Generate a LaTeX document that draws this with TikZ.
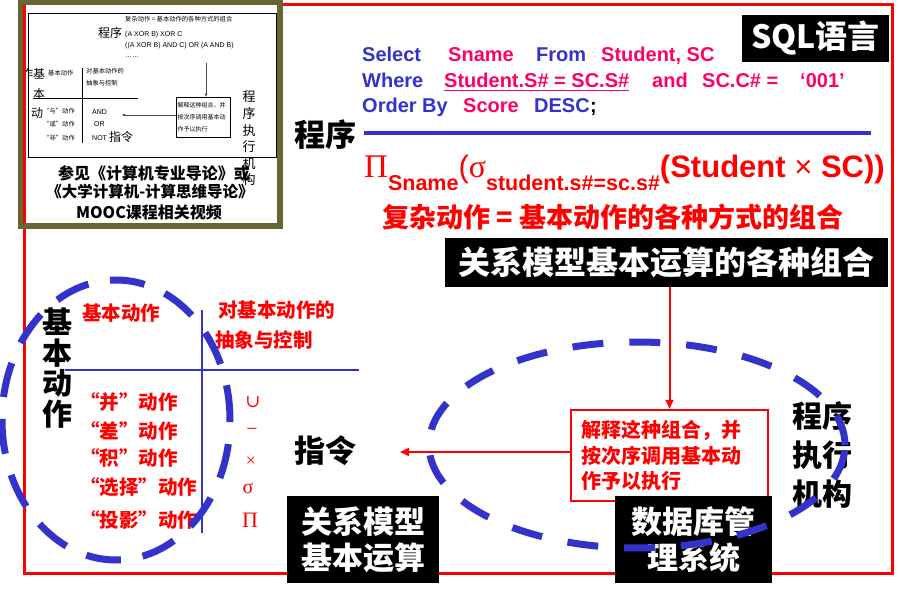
\documentclass[tikz,border=0pt]{standalone}
\usepackage{fontspec}
\setmainfont{Liberation Sans}
\newfontfamily\cjk{Noto Sans CJK SC}
\newfontfamily\grk{Liberation Serif}
\newfontfamily\symf{DejaVu Serif}
\usetikzlibrary{arrows.meta}

\definecolor{kwblue}{RGB}{51,51,204}
\definecolor{idpink}{RGB}{255,0,102}
\definecolor{framegold}{RGB}{102,102,51}
\definecolor{pred}{RGB}{255,0,0}

\newcommand{\fsz}[1]{\fontsize{#1}{#1}\selectfont}

\tikzset{
  sqlword/.style={anchor=base west, inner sep=0pt, font=\bfseries\fsz{20}},
  kw/.style={sqlword, text=kwblue},
  ident/.style={sqlword, text=idpink},
  bigcjk/.style={inner sep=0pt, font=\cjk\bfseries\fsz{31}},
  blackbox/.style={fill=black, text=white, inner sep=0pt, align=center},
  redtxt/.style={inner sep=0pt, text=pred, font=\cjk\bfseries\fsz{19.5}},
  redsym/.style={inner sep=0pt, text=pred},
  redarrow/.style={draw=pred, line width=2pt, -{Triangle[length=9pt,width=8pt]}},
  blueline/.style={draw=kwblue, line width=2.5pt},
  bluedash/.style={draw=kwblue, line width=7pt},
  tinycjk/.style={inner sep=0pt, font=\cjk\fsz{6.3}},
  tinylat/.style={inner sep=0pt, anchor=west, font=\fsz{7}},
  thumbarrow/.style={draw=black!70, line width=0.6pt, -{Triangle[length=3pt,width=2.5pt]}},
}

\begin{document}
\begin{tikzpicture}[x=1pt,y=-1pt]
% canvas
\fill[white] (0,0) rectangle (906,596);
\useasboundingbox (0,0) rectangle (906,596);

% outer red frame
\draw[pred, line width=3pt] (24.5,4.5) rectangle (892,573);

% ---------- small inset slide (top left) ----------
\fill[white] (20.5,2.5) rectangle (279.5,226);
\draw[black, line width=0.8pt] (28,13) rectangle (276,157);
\node[tinycjk, anchor=west] (t-cplx) at (125,19) {复杂动作 = 基本动作的各种方式的组合};
\node[inner sep=0pt, font=\cjk\fsz{12}] (t-prog) at (110,33) {程序};
\node[tinylat] (t-e1) at (125,35) {(A XOR B) XOR C};
\node[tinylat] (t-e2) at (125,46) {((A XOR B) AND C) OR (A AND B)};
\node[tinylat] (t-e3) at (125,57) {……};
\coordinate (t-arrtop) at (206,63);
\node[draw=black, line width=0.6pt, minimum width=54pt, minimum height=40pt, inner sep=1.5pt,
      text width=51pt, align=left, font=\cjk\fontsize{6}{12}\selectfont] (t-box) at (203,117)
      {解释这种组合，并\\按次序调用基本动\\作予以执行};
\draw[thumbarrow] (t-arrtop) -- (t-arrtop |- t-box.north);
\coordinate (t-cmd) at (122,115);
\draw[thumbarrow] (t-box.west |- t-cmd) -- (t-cmd);
\draw[black, line width=0.7pt] (33,98) -- (138,98);
\draw[black, line width=0.7pt] (82,68) -- (82,143);
\node[inner sep=0pt, font=\cjk\fsz{12}] (t-z) at (27,74) {作};
\node[inner sep=0pt, font=\cjk\fsz{12}] (t-j) at (39,74) {基};
\node[inner sep=0pt, font=\cjk\fsz{12}] (t-b) at (39,94) {本};
\node[inner sep=0pt, font=\cjk\fsz{12}] (t-d) at (37,113) {动};
\node[tinycjk, anchor=west] (t-basic) at (48,73) {基本动作};
\node[tinycjk, anchor=west] (t-ab1) at (86,71) {对基本动作的};
\node[tinycjk, anchor=west] (t-ab2) at (86,83) {抽象与控制};
\node[tinycjk, anchor=east] (t-and) at (75,111) {“与”动作};
\node[tinycjk, anchor=east] (t-or) at (75,124) {“或”动作};
\node[tinycjk, anchor=east] (t-not) at (75,138) {“非”动作};
\node[tinylat] (t-AND) at (92,112) {AND};
\node[tinylat] (t-OR) at (94,124) {OR};
\node[tinylat] (t-NOT) at (92,138) {NOT};
\node[inner sep=0pt, font=\cjk\fsz{12}] (t-instr) at (121,137) {指令};
\node[inner sep=0pt, font=\cjk\bfseries\fsz{16}] (t-c1) at (154,173) {参见《计算机专业导论》或};
\node[inner sep=0pt, font=\cjk\bfseries\fsz{15.5}] (t-c2) at (150,192) {《大学计算机-计算思维导论》};
\node[inner sep=0pt, font=\cjk\bfseries\fsz{16}] (t-c3) at (149,212) {MOOC课程相关视频};
\node[inner sep=0pt, align=center, font=\cjk\fontsize{13}{16.6}\selectfont] (t-exec) at (249,138.5)
      {程\\序\\执\\行\\机\\构};
\draw[framegold, line width=6pt] (20.5,2.5) rectangle (279.5,226);
\draw[pred, line width=3pt] (24.5,5.5) -- (24.5,223);

% ---------- SQL statement ----------
\node[blackbox, minimum width=147pt, minimum height=47pt, font=\cjk\bfseries\fsz{32}] (sqlbox) at (815.5,38.5) {SQL语言};
\node[kw] (s1) at (362,62) {Select};
\node[ident] (s2) at (448,62) {Sname};
\node[kw] (s3) at (536,62) {From};
\node[ident] (s4) at (601,62) {Student, SC};
\node[kw] (w1) at (362,88) {Where};
\node[ident] (w2) at (444,88) {Student.S\# = SC.S\#};
\draw[idpink, line width=1.8pt] ([yshift=-2.5pt]w2.base west) -- ([yshift=-2.5pt]w2.base east);
\node[ident] (w3) at (652,88) {and};
\node[ident] (w4) at (702,88) {SC.C\# =};
\node[ident] (w5) at (800,88) {‘001’};
\node[kw] (o1) at (362,113) {Order By};
\node[ident] (o2) at (463,113) {Score};
\node[kw] (o3) at (534,113) {DESC};
\node[sqlword] (o4) at (590,113) {;};

\node[bigcjk] (prog) at (325,135) {程序};
\draw[kwblue, line width=4pt] (364,133.5) -- (871,133.5);

% relational algebra expression
\node[anchor=base west, inner sep=0pt, text=pred] (ra) at (364,178) {%
  {\grk\fsz{33}Π}%
  \raisebox{-13pt}{\bfseries\fsz{21.5}Sname}%
  {\fsz{31}(}%
  {\grk\fsz{32}σ}%
  \raisebox{-13pt}{\bfseries\fsz{21.5}student.s\#=sc.s\#}%
  {\bfseries\fsz{31}(Student}{\fsz{31} × }{\bfseries\fsz{31}SC))}};

\node[inner sep=0pt, text=pred, font=\cjk\bfseries\fsz{27}] (cplx) at (613,217) {复杂动作 = 基本动作的各种方式的组合};

\node[blackbox, minimum width=443pt, minimum height=49pt, font=\cjk\bfseries\fsz{32}] (combo) at (666.5,262.5) {关系模型基本运算的各种组合};

% ---------- execution mechanism ----------
\node[draw=pred, line width=2.5pt, fill=white, text=pred, font=\cjk\bfseries\fontsize{20}{25.5}\selectfont,
      text width=176pt, align=left, inner xsep=10.5pt, inner ysep=0pt, minimum height=91pt] (interp) at (669.5,455.5)
      {解释这种组合，并\\按次序调用基本动\\作予以执行};
\node[inner sep=0pt, align=center, font=\cjk\bfseries\fontsize{30}{39}\selectfont] (exec) at (822,455) {程序\\执行\\机构};
\node[blackbox, minimum width=157pt, minimum height=87pt, font=\cjk\bfseries\fontsize{31}{36}\selectfont] (dbms) at (693.5,539.5) {数据库管\\理系统};

% ---------- basic operations ----------
\node[blackbox, minimum width=152pt, minimum height=87pt, font=\cjk\bfseries\fontsize{31}{36}\selectfont] (relops) at (363,539.5) {关系模型\\基本运算};
\node[bigcjk] (instr) at (325,451) {指令};
\node[inner sep=0pt, align=center, font=\cjk\bfseries\fontsize{30}{30.5}\selectfont] (basic) at (57,368) {基\\本\\动\\作};
\node[redtxt, anchor=west] (bt) at (82,313) {基本动作};
\node[redtxt, anchor=west] (ab1) at (218,310) {对基本动作的};
\node[redtxt, anchor=west] (ab2) at (215,340) {抽象与控制};
\draw[blueline] (202,310) -- (202,533);
\draw[blueline] (65,370) -- (359,370);
\node[redtxt, anchor=west] (op1) at (80,402) {“并”动作};
\node[redtxt, anchor=west] (op2) at (80,431) {“差”动作};
\node[redtxt, anchor=west] (op3) at (80,458) {“积”动作};
\node[redtxt, anchor=west] (op4) at (80,487) {“选择”动作};
\node[redtxt, anchor=west] (op5) at (80,520) {“投影”动作};
\node[redsym, font=\symf\fsz{18}] (y1) at (253,402) {∪};
\node[redsym, font=\grk\fsz{20}] (y2) at (252,432) {−};
\node[redsym, font=\grk\fsz{18}] (y3) at (251,462) {×};
\node[redsym, font=\grk\fsz{20}] (y4) at (248,488) {σ};
\node[redsym, font=\grk\fsz{22}] (y5) at (250,520) {Π};

% ---------- dashed groupings ----------
\draw[bluedash, dash pattern=on 35pt off 22pt] (116,420) ellipse [x radius=114pt, y radius=140pt];
\draw[bluedash, dash pattern=on 31pt off 26pt] (637,445) ellipse [x radius=208pt, y radius=103pt];

% ---------- flow arrows ----------
\draw[redarrow] (combo.south -| interp.north) -- (interp.north);
\coordinate (cmdtip) at (400,452);
\draw[redarrow] (interp.west |- cmdtip) -- (cmdtip);
\end{tikzpicture}
\end{document}
